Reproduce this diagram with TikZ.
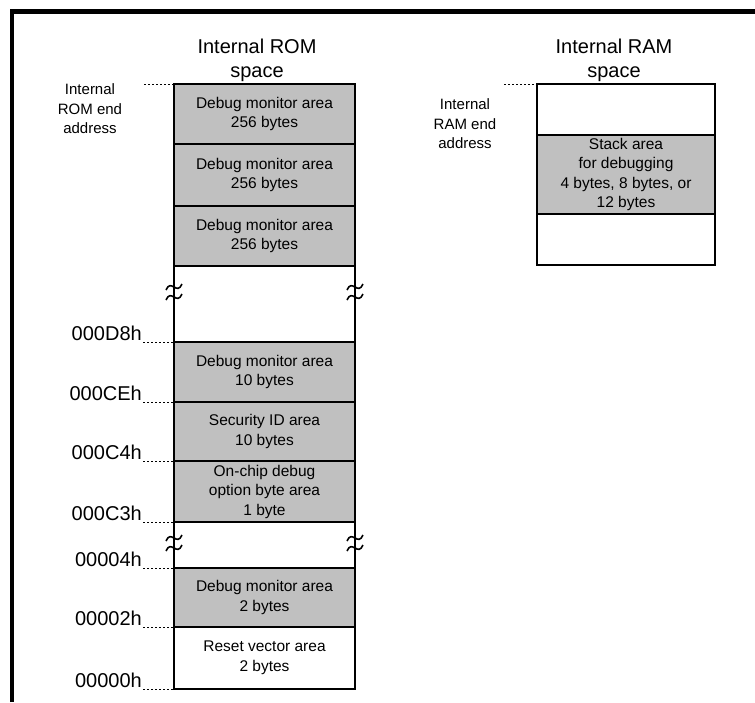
\documentclass[tikz,border=0pt]{standalone}
\usepackage{fontspec}
\setmainfont{Liberation Sans}
\definecolor{memgray}{RGB}{192,192,192}
\newcommand{\gapmark}[1]{%
  \begin{scope}[shift={(#1)}, line width=1.6pt]
    \draw (-8,-2) .. controls (-3,-14) and (3,4) .. (8,-8);
    \draw (-8,8) .. controls (-3,-4) and (3,14) .. (8,2);
  \end{scope}}

\begin{document}
\begin{tikzpicture}[x=1pt, y=-1pt,
  cell/.style={draw, line width=1.4pt, minimum width=181pt, outer sep=0pt,
    inner sep=1pt, align=center, font=\fontsize{15.5}{19.5}\selectfont},
  shaded/.style={cell, fill=memgray},
  addr/.style={anchor=south east, inner sep=1pt, font=\fontsize{20}{24}\selectfont},
  leader/.style={line width=1pt, dash pattern=on 2pt off 2pt},
  note/.style={align=center, font=\fontsize{15}{19.5}\selectfont},
  head/.style={align=center, font=\fontsize{20}{24}\selectfont}]
\useasboundingbox (0,0) rectangle (755,702);
\draw [line width=4.5pt] (12,702) -- (12,11.5) -- (755,11.5);
\node [head] (romhead) at (257,60) {Internal ROM\\space};
\node [head] (ramhead) at (614,60) {Internal RAM\\space};
\node [note] (romnote) at (90,109) {Internal\\ROM end\\address};
\node [note] (ramnote) at (465,124) {Internal\\RAM end\\address};
\node [shaded, minimum height=60pt] (r1) at (264.5,114) {Debug monitor area\\256 bytes};
\node [shaded, minimum height=62pt] (r2) at (264.5,175) {Debug monitor area\\256 bytes};
\node [shaded, minimum height=60pt] (r3) at (264.5,236) {Debug monitor area\\256 bytes};
\node [cell, minimum height=76pt] (r4) at (264.5,304) {};
\node [shaded, minimum height=60pt] (r5) at (264.5,372) {Debug monitor area\\10 bytes};
\node [shaded, minimum height=59pt] (r6) at (264.5,431.5) {Security ID area\\10 bytes};
\node [shaded, minimum height=61pt] (r7) at (264.5,491.5) {On-chip debug\\option byte area\\1 byte};
\node [cell, minimum height=46pt] (r8) at (264.5,545) {};
\node [shaded, minimum height=59pt] (r9) at (264.5,597.5) {Debug monitor area\\2 bytes};
\node [cell, minimum height=62pt] (r10) at (264.5,658) {Reset vector area\\2 bytes};
\node [cell, minimum width=178pt, minimum height=51pt] (m1) at (626,109.5) {};
\node [shaded, minimum width=178pt, minimum height=79pt] (m2) at (626,174.5) {Stack area\\for debugging\\4 bytes, 8 bytes, or\\12 bytes};
\node [cell, minimum width=178pt, minimum height=51pt] (m3) at (626,239.5) {};
\coordinate (romend) at (144,84);
\coordinate (ramend) at (504,84);
\draw [leader] (romend) -- (r1.north west);
\draw [leader] (ramend) -- (m1.north west);
\node [addr] (d8) at ([xshift=-31pt]r4.south west) {000D8h};
\node [addr] (ce) at ([xshift=-31pt]r5.south west) {000CEh};
\node [addr] (c4) at ([xshift=-31pt]r6.south west) {000C4h};
\node [addr] (c3) at ([xshift=-31pt]r7.south west) {000C3h};
\node [addr] (a4) at ([xshift=-31pt]r8.south west) {00004h};
\node [addr] (a2) at ([xshift=-31pt]r9.south west) {00002h};
\node [addr] (a0) at ([xshift=-31pt]r10.south west) {00000h};
\draw [leader] (d8.south east) -- (r4.south west);
\draw [leader] (ce.south east) -- (r5.south west);
\draw [leader] (c4.south east) -- (r6.south west);
\draw [leader] (c3.south east) -- (r7.south west);
\draw [leader] (a4.south east) -- (r8.south west);
\draw [leader] (a2.south east) -- (r9.south west);
\draw [leader] (a0.south east) -- (r10.south west);
\gapmark{174,292}
\gapmark{355,292}
\gapmark{174,543}
\gapmark{355,543}
\end{tikzpicture}
\end{document}
